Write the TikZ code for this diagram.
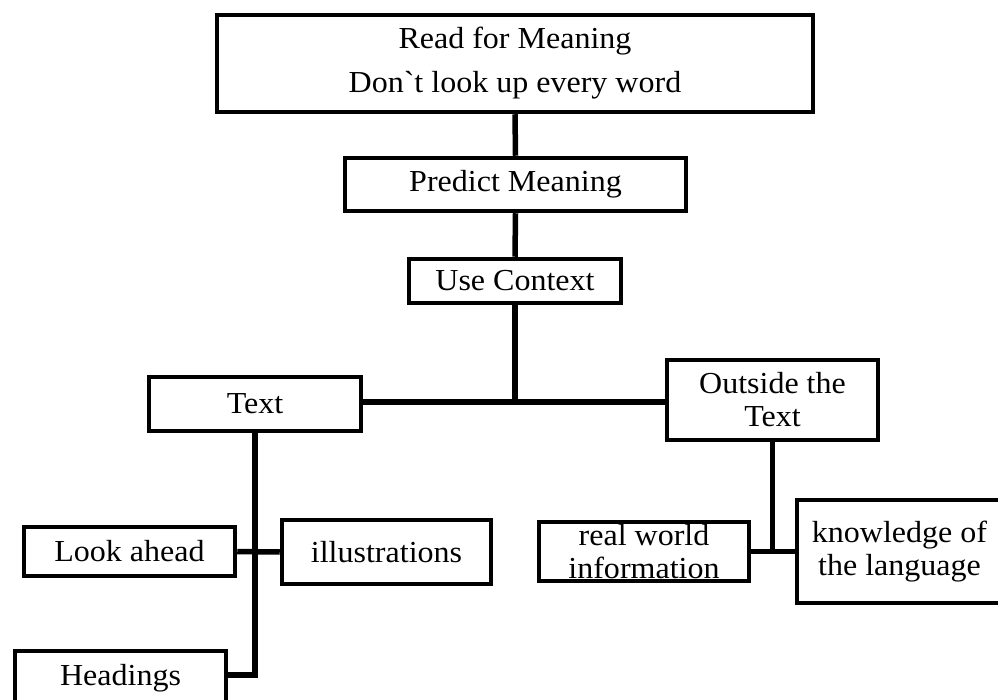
\documentclass[tikz,border=0pt]{standalone}
\usepackage{fontspec}
\setmainfont{Liberation Serif}[Ligatures=TeXOff, FakeStretch=1.05]
\begin{document}
\begin{tikzpicture}[x=1pt,y=-1pt,
  box/.style={draw, line width=4.5pt, inner sep=0pt, align=center,
    font=\fontsize{30.5}{33}\selectfont},
  conn/.style={line width=5.5pt}]
\useasboundingbox (0,0) rectangle (998,700);
\node[box, minimum width=596pt, minimum height=97pt] (B1) at (515,63.5)
  {Read for Meaning\\[11pt]Don`t look up every word};
\node[box, minimum width=341pt, minimum height=53pt] (B2) at (515.5,184.5) {Predict Meaning};
\node[box, minimum width=212pt, minimum height=44pt] (B3) at (515,281) {Use Context};
\node[box, minimum width=212pt, minimum height=54pt] (Text) at (255,404) {Text};
\node[box, minimum width=211pt, minimum height=80pt] (Out) at (772.5,400) {Outside the\\Text};
\node[box, minimum width=211pt, minimum height=49pt] (Look) at (129.5,551.5) {Look ahead};
\node[box, minimum width=209pt, minimum height=64pt] (Illu) at (386.5,552) {illustrations};
\node[box, minimum width=210pt, minimum height=59pt] (Real) at (644,551.5) {real world\\information};
\node[box, minimum width=205pt, minimum height=103pt] (Know) at (899.5,551.5) {knowledge of\\the language};
\node[box, minimum width=211pt, minimum height=54pt] (Head) at (120.5,678) {Headings};
\coordinate (J) at (515,402);
\coordinate (H) at (255,675);
\draw[conn] (B1.south) -- (B2.north);
\draw[conn] (B2.south) -- (B3.north);
\draw[conn] (B3.south) -- (J);
\draw[conn] (Text.east |- J) -- (Out.west |- J);
\draw[conn] (Text.south) -- (H) -- (Head.east |- H);
\draw[conn] (Look.east) -- (Illu.west);
\draw[conn] (Out.south) -- (Out.south |- Real.east);
\draw[conn] (Real.east) -- (Know.west);
\end{tikzpicture}
\end{document}
